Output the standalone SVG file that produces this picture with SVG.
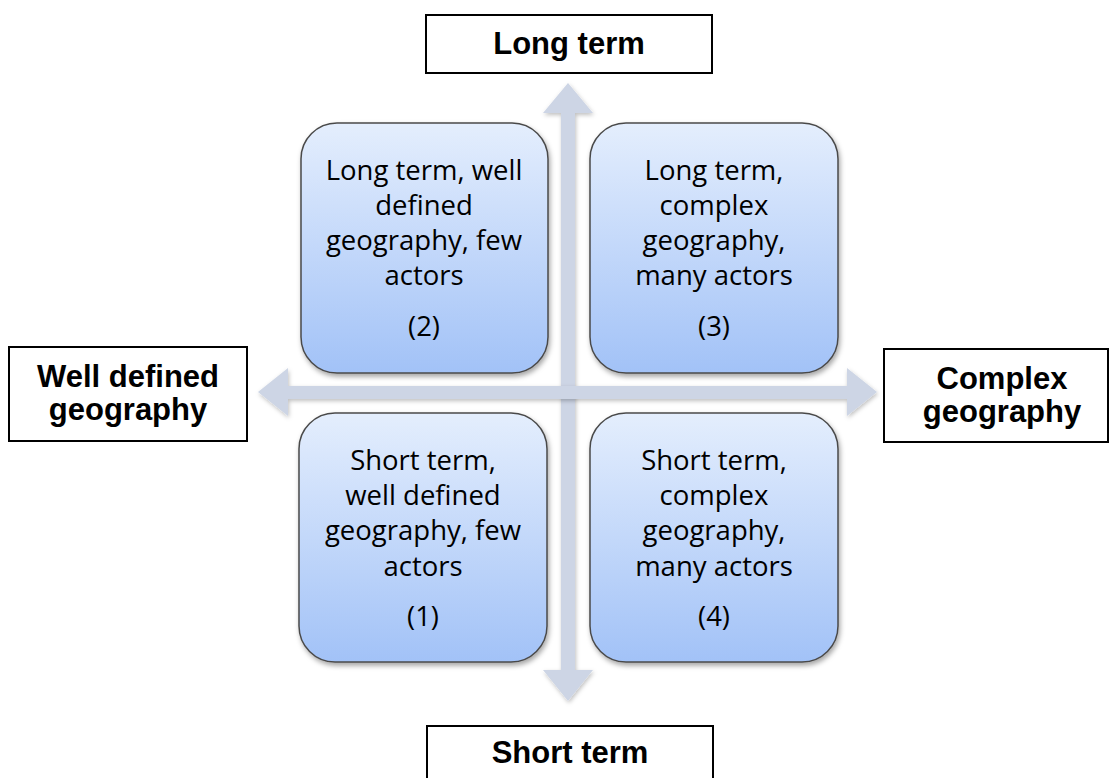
<svg xmlns="http://www.w3.org/2000/svg" width="1110" height="778" viewBox="0 0 1110 778">
<style>
.lbl{fill:#fff;stroke:#000;stroke-width:2}
.lt{font-family:"Liberation Sans",Arial,sans-serif;font-weight:bold;font-size:31px;fill:#000;text-anchor:middle}
.q{fill:url(#g);stroke:#4a4a4a;stroke-width:1.5;filter:url(#sh)}
.qt{font-family:"Open Sans","Noto Sans",sans-serif;font-size:27.5px;fill:#000;text-anchor:middle}
.ax{fill:#CDD5E5;filter:url(#sh2)}
</style>
<defs>
<linearGradient id="g" x1="0" y1="0" x2="0" y2="1">
<stop offset="0" stop-color="#E4EEFD"/>
<stop offset="1" stop-color="#A2C2F7"/>
</linearGradient>
<filter id="sh" x="-10%" y="-10%" width="125%" height="125%">
<feDropShadow dx="1.5" dy="3" stdDeviation="2.5" flood-color="#000" flood-opacity="0.35"/>
</filter>
<filter id="sh2" x="-10%" y="-10%" width="125%" height="125%">
<feDropShadow dx="1" dy="2" stdDeviation="2" flood-color="#000" flood-opacity="0.25"/>
</filter>
</defs>
<g id="connectors">
<polygon class="ax" points="568,83 593,113 575,113 575,670 593,670 568,701 543,670 561,670 561,113 543,113"/>
<polygon class="ax" points="258,392 288,368 288,386 847,386 847,368 877,392 847,416 847,399 288,399 288,416"/>
</g>
<g id="long-term">
<rect class="lbl" x="426" y="15" width="286" height="58"/>
<text class="lt" x="569" y="54">Long term</text>
</g>
<g id="short-term">
<rect class="lbl" x="427" y="726" width="286" height="60"/>
<text class="lt" x="570" y="763">Short term</text>
</g>
<g id="well-defined">
<rect class="lbl" x="9" y="347" width="238" height="94"/>
<text class="lt" x="128" y="387">Well defined</text>
<text class="lt" x="128" y="420">geography</text>
</g>
<g id="complex">
<rect class="lbl" x="884" y="349" width="224" height="93"/>
<text class="lt" x="1002" y="389">Complex</text>
<text class="lt" x="1002" y="422">geography</text>
</g>
<g id="q2">
<rect class="q" x="301" y="123" width="247" height="250" rx="36"/>
<text class="qt" x="424" y="180">Long term, well</text>
<text class="qt" x="424" y="215">defined</text>
<text class="qt" x="424" y="250">geography, few</text>
<text class="qt" x="424" y="285">actors</text>
<text class="qt" x="424" y="336">(2)</text>
</g>
<g id="q3">
<rect class="q" x="590" y="123" width="248" height="250" rx="36"/>
<text class="qt" x="714" y="180">Long term,</text>
<text class="qt" x="714" y="215">complex</text>
<text class="qt" x="714" y="250">geography,</text>
<text class="qt" x="714" y="285">many actors</text>
<text class="qt" x="714" y="336">(3)</text>
</g>
<g id="q1">
<rect class="q" x="299" y="413" width="248" height="249" rx="36"/>
<text class="qt" x="423" y="470">Short term,</text>
<text class="qt" x="423" y="505">well defined</text>
<text class="qt" x="423" y="540">geography, few</text>
<text class="qt" x="423" y="576">actors</text>
<text class="qt" x="423" y="626">(1)</text>
</g>
<g id="q4">
<rect class="q" x="590" y="413" width="248" height="249" rx="36"/>
<text class="qt" x="714" y="470">Short term,</text>
<text class="qt" x="714" y="505">complex</text>
<text class="qt" x="714" y="540">geography,</text>
<text class="qt" x="714" y="576">many actors</text>
<text class="qt" x="714" y="626">(4)</text>
</g>
</svg>
